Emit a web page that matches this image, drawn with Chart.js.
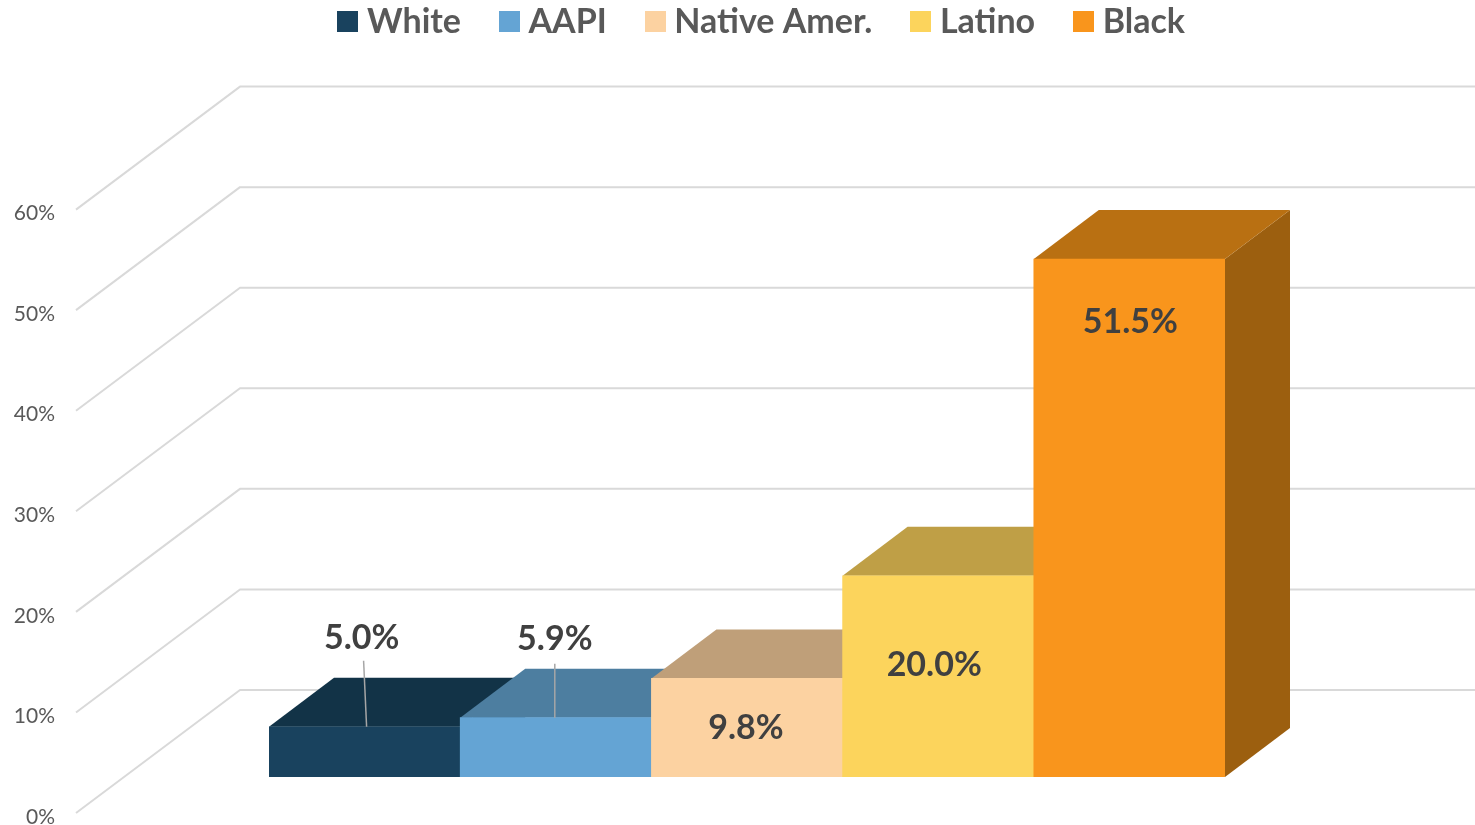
<!DOCTYPE html>
<html><head><meta charset="utf-8">
<style>html,body{margin:0;padding:0;background:#fff}#w{position:relative;width:1475px;height:825px}</style>
<script src="https://cdn.jsdelivr.net/npm/chart.js@4"></script>
</head><body><div id="w"><canvas id="c" width="1475" height="825"></canvas></div>
<script>
const categories = ['White','AAPI','Native Amer.','Latino','Black'];
const values = [5.0,5.9,9.8,20.0,51.5];
const yTicks = [0,10,20,30,40,50,60];
const frontColors = ['#19425e','#64a4d4','#fcd2a1','#fcd45c','#f9951c'];
const topColors = ['#123347','#4d7ea0','#bf9f79','#bf9f46','#b97012'];
const sideColors = ['#0f2b3d','#426c8a','#a38868','#a3883c','#9c5f0f'];
const labelOffsets = [[-3,-89],[-1,-79],[-1,50],[-4,89],[1,63]];
const leaderLines = [[[-1,-66],[2,0]],[[-1,-54],[-1,0]],null,null,null];
const DX = 65, DY = -49, SIDE_BACK = -87, SIDE_FRONT = 36, FONT = 'Lato';

function swatch(color){
  const s = document.createElement('canvas'); s.width = 21; s.height = 21;
  const g = s.getContext('2d'); g.fillStyle = color; g.fillRect(0,0,21,21); return s;
}
const wallPlugin = {
  id:'walls',
  beforeDatasetsDraw(chart){
    const {ctx, scales:{y}} = chart;
    const bars = chart.getDatasetMeta(0).data;
    ctx.save();
    ctx.strokeStyle = '#d9d9d9'; ctx.lineWidth = 2; ctx.lineJoin='round';
    yTicks.forEach(v=>{
      const p = y.getPixelForValue(v);
      ctx.beginPath();
      ctx.moveTo(76, p+SIDE_FRONT);
      ctx.lineTo(240, p+SIDE_BACK);
      ctx.lineTo(chart.width, p+SIDE_BACK);
      ctx.stroke();
    });
    bars.forEach((b,i)=>{
      const l = b.x-b.width/2, r = b.x+b.width/2, t = b.y, bt = b.base;
      ctx.fillStyle = sideColors[i];
      ctx.beginPath(); ctx.moveTo(r,t); ctx.lineTo(r+DX,t+DY); ctx.lineTo(r+DX,bt+DY); ctx.lineTo(r,bt); ctx.closePath(); ctx.fill();
      ctx.fillStyle = topColors[i];
      ctx.beginPath(); ctx.moveTo(l,t); ctx.lineTo(l+DX,t+DY); ctx.lineTo(r+DX,t+DY); ctx.lineTo(r,t); ctx.closePath(); ctx.fill();
    });
    ctx.restore();
  },
  afterDatasetsDraw(chart){
    const {ctx} = chart;
    const bars = chart.getDatasetMeta(0).data;
    ctx.save();
    bars.forEach((b,i)=>{
      const ln = leaderLines[i];
      if(ln){
        ctx.strokeStyle='#a6a6a6'; ctx.lineWidth=1.5;
        ctx.beginPath(); ctx.moveTo(b.x+ln[0][0], b.y+ln[0][1]); ctx.lineTo(b.x+ln[1][0], b.y+ln[1][1]); ctx.stroke();
      }
      ctx.fillStyle='#404040'; ctx.font='bold 34px '+FONT; ctx.textAlign='center'; ctx.textBaseline='middle';
      ctx.fillText(values[i].toFixed(1)+'%', b.x+labelOffsets[i][0], b.y+labelOffsets[i][1]);
    });
    ctx.restore();
  },
  beforeDraw(chart){
    const lg = chart.legend;
    if(!lg._shifted){ lg.left += 153; lg.right += 153; lg.top -= 125; lg.bottom -= 125; lg._shifted = true; }
  }
};
new Chart(document.getElementById('c'),{
  type:'bar',
  data:{labels:categories,datasets:[{data:values,backgroundColor:frontColors,borderWidth:0,barPercentage:1,categoryPercentage:1}]},
  plugins:[wallPlugin],
  options:{
    responsive:false,animation:false,
    layout:{padding:{left:0,right:250,top:0,bottom:48}},
    plugins:{
      tooltip:{enabled:false},
      legend:{
        position:'top',
        onClick:null,
        labels:{
          usePointStyle:true,boxWidth:4,boxHeight:21,padding:46.5,color:'#595959',
          font:{family:FONT,size:34,weight:'bold'},
          generateLabels(){return categories.map((c,i)=>({text:c,fillStyle:frontColors[i],strokeStyle:frontColors[i],lineWidth:0,pointStyle:swatch(frontColors[i]),hidden:false,index:i,fontColor:'#595959'}));}
        }
      }
    },
    scales:{
      x:{display:false,grid:{display:false}},
      y:{min:0,max:60,
        afterFit(s){s.width=269;s.paddingTop=173.6;s.paddingBottom=0;},
        afterBuildTicks(s){s.ticks=yTicks.map(v=>({value:v}));},
        border:{display:false},
        grid:{display:false,drawTicks:false},
        ticks:{padding:214,labelOffset:40,color:'#595959',font:{family:FONT,size:21},callback:v=>v+'%'}
      }
    }
  }
});
</script></body></html>
